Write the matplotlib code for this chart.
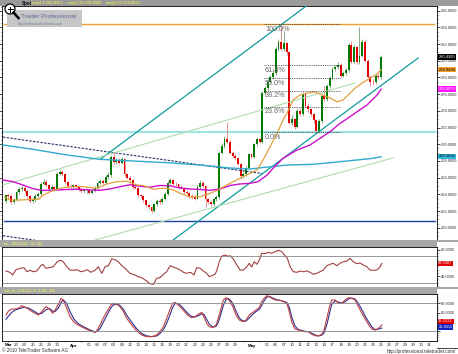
import matplotlib
matplotlib.use("Agg")
import matplotlib.pyplot as plt
from matplotlib.patches import Rectangle, Circle
from matplotlib.lines import Line2D
from matplotlib.transforms import IdentityTransform
from matplotlib.ticker import MultipleLocator

plt.rcParams['font.family'] = ['Liberation Sans', 'DejaVu Sans']

W, H = 458, 354

# ---- price data, 3 bars per trading day (Mar 22 .. May 25) ----
opens = [
    263.2, 263.9, 263.8, 263.1, 263.3, 264.3, 264.6, 264.8, 264.4, 263.8,
    263.2, 263.3, 263.8, 264.0, 265.3, 265.5, 265.1, 264.7, 264.9, 264.6,
    266.5, 266.7, 266.4, 265.5, 265.0, 264.9, 265.1, 264.9, 264.6, 264.4,
    264.5, 264.5, 264.2, 264.4, 264.8, 265.4, 265.6, 265.4, 266.1, 266.3,
    268.5, 267.9, 268.1, 267.8, 268.2, 266.4, 266.0, 265.7, 264.9, 264.8,
    263.9, 263.8, 263.3, 262.7, 262.5, 262.0, 262.8, 263.2, 263.1, 263.5,
    264.1, 265.4, 265.7, 265.3, 265.2, 264.9, 264.8, 264.3, 264.2, 263.8,
    263.7, 263.5, 264.9, 265.4, 265.0, 263.4, 263.1, 262.8, 263.4, 263.7,
    269.0, 269.8, 270.6, 270.3, 269.0, 268.6, 268.3, 267.7, 266.2, 266.4,
    267.2, 268.8, 268.5, 270.0, 270.6, 270.3, 276.2, 276.7, 277.5, 278.0,
    278.5, 281.4, 282.2, 281.4, 282.1, 281.0, 272.6, 273.0, 272.1, 274.0,
    273.6, 276.0, 274.6, 274.2, 273.6, 272.9, 271.6, 272.8, 275.8, 275.4,
    277.0, 277.9, 279.0, 279.2, 279.5, 278.2, 278.5, 278.9, 281.9, 279.9,
    281.6, 279.8, 280.6, 282.3, 280.0, 278.1, 277.5, 277.4, 278.2, 278.0,
]
highs = [
    264.1, 264.1, 264.0, 263.6, 264.5, 264.9, 265.1, 265.0, 264.6, 263.9,
    263.6, 264.0, 264.3, 265.5, 265.8, 265.7, 265.2, 265.1, 265.0, 266.7,
    267.0, 266.9, 266.5, 265.6, 265.2, 265.3, 265.2, 265.0, 264.8, 264.7,
    264.8, 264.6, 264.6, 265.0, 265.6, 265.9, 265.8, 266.3, 266.7, 268.7,
    269.1, 268.4, 268.3, 268.5, 268.3, 266.6, 266.2, 265.8, 265.1, 264.9,
    264.1, 263.9, 263.4, 262.9, 262.6, 263.0, 263.4, 263.4, 263.7, 264.3,
    265.6, 266.0, 265.9, 265.5, 265.3, 265.1, 264.9, 264.5, 264.3, 264.0,
    263.9, 265.1, 265.7, 265.6, 265.1, 263.6, 263.2, 263.6, 263.9, 269.2,
    270.1, 271.0, 272.7, 270.5, 269.2, 268.8, 268.5, 267.8, 266.7, 267.4,
    269.0, 269.0, 270.2, 270.9, 270.8, 276.4, 277.0, 277.8, 278.3, 279.0,
    281.6, 282.6, 284.4, 283.6, 282.3, 281.2, 273.5, 273.2, 274.3, 274.3,
    276.3, 276.1, 275.0, 274.4, 273.8, 273.0, 273.0, 276.0, 277.0, 277.2,
    278.2, 279.3, 279.5, 279.9, 279.7, 278.8, 279.1, 282.1, 282.4, 281.9,
    281.8, 284.0, 282.6, 282.5, 280.2, 278.3, 277.8, 278.4, 278.5, 280.7,
]
lows = [
    263.0, 263.5, 262.9, 262.9, 263.2, 264.1, 264.4, 264.2, 263.6, 263.0,
    263.0, 263.1, 263.6, 263.8, 265.1, 264.9, 264.5, 264.5, 264.4, 264.5,
    266.3, 266.2, 265.3, 264.8, 264.7, 264.7, 264.7, 264.4, 264.2, 264.2,
    264.2, 264.0, 264.0, 264.3, 264.6, 265.2, 265.2, 265.2, 265.9, 266.1,
    267.7, 267.7, 267.6, 267.6, 266.2, 265.8, 265.5, 264.7, 264.6, 263.7,
    263.6, 263.1, 262.5, 262.3, 261.8, 261.9, 262.6, 262.9, 262.9, 263.3,
    263.9, 265.2, 265.1, 265.0, 264.7, 264.6, 264.1, 264.0, 263.6, 263.5,
    263.3, 263.4, 264.7, 264.8, 262.5, 262.9, 262.6, 262.6, 263.2, 263.5,
    268.8, 269.6, 270.1, 268.8, 268.4, 268.1, 267.5, 265.9, 266.0, 266.2,
    267.0, 268.3, 268.3, 269.8, 270.1, 270.1, 275.9, 276.4, 277.3, 277.8,
    278.3, 281.2, 281.2, 281.2, 280.7, 272.4, 272.3, 271.8, 271.9, 273.4,
    273.4, 274.4, 273.9, 273.4, 272.6, 271.3, 271.4, 272.6, 275.2, 275.2,
    276.8, 277.7, 278.8, 279.0, 278.0, 278.0, 278.3, 278.7, 279.7, 279.7,
    279.6, 279.6, 280.4, 279.8, 277.9, 277.0, 277.1, 277.2, 277.8, 277.8,
]
closes = [
    263.9, 263.8, 263.1, 263.3, 264.3, 264.6, 264.8, 264.4, 263.8, 263.2,
    263.3, 263.8, 264.0, 265.3, 265.5, 265.1, 264.7, 264.9, 264.6, 266.5,
    266.7, 266.4, 265.5, 265.0, 264.9, 265.1, 264.9, 264.6, 264.4, 264.5,
    264.5, 264.2, 264.4, 264.8, 265.4, 265.6, 265.4, 266.1, 266.3, 268.5,
    267.9, 268.1, 267.8, 268.2, 266.4, 266.0, 265.7, 264.9, 264.8, 263.9,
    263.8, 263.3, 262.7, 262.5, 262.0, 262.8, 263.2, 263.1, 263.5, 264.1,
    265.4, 265.7, 265.3, 265.2, 264.9, 264.8, 264.3, 264.2, 263.8, 263.7,
    263.5, 264.9, 265.4, 265.0, 263.4, 263.1, 262.8, 263.4, 263.7, 269.0,
    269.8, 270.6, 270.3, 269.0, 268.6, 268.3, 267.7, 266.2, 266.4, 267.2,
    268.8, 268.5, 270.0, 270.6, 270.3, 276.2, 276.7, 277.5, 278.0, 278.5,
    281.4, 282.2, 281.4, 282.1, 281.0, 272.6, 273.0, 272.1, 274.0, 273.6,
    276.0, 274.6, 274.2, 273.6, 272.9, 271.6, 272.8, 275.8, 275.4, 277.0,
    277.9, 279.0, 279.2, 279.5, 278.2, 278.5, 278.9, 281.9, 279.9, 281.6,
    279.8, 280.6, 282.3, 280.0, 278.1, 277.5, 277.4, 278.2, 278.0, 280.43,
]

# moving averages (bar position, value)
orange_bar = [-0.3, 1.6, 5.3, 10.1, 12.3, 13.4, 16.4, 20.1, 23.8, 28.6, 33.8, 37.5, 41.2,
              44.9, 48.6, 50.9, 54.6, 57.1, 59.7, 62.0, 64.6, 68.3, 72.0, 75.7, 78.6, 81.9,
              83.1, 87.9, 93.1, 95.3, 97.9, 100.5, 102.7, 104.2, 106.4, 109.0, 111.6, 114.6,
              117.1, 120.1, 122.7, 124.9, 126.8, 129.4, 132.0, 133.8, 135.7, 137.5, 139.0]
orange_val = [263.65, 263.33, 263.33, 263.41, 263.41, 263.81, 264.32, 264.73, 264.92, 264.92,
              264.73, 265.25, 265.52, 265.57, 265.13, 265.07, 264.61, 264.71, 264.73, 264.53,
              264.13, 263.69, 263.72, 264.13, 264.53, 265.13, 265.33, 266.12, 266.92, 268.12,
              269.71, 271.32, 272.91, 273.75, 275.31, 275.9, 276.14, 276.26, 275.9, 275.55,
              275.07, 275.31, 275.9, 276.74, 277.34, 277.7, 278.06, 278.42, 278.94]
magenta_bar = [-1.0, 2.7, 6.4, 10.1, 13.8, 19.0, 22.7, 27.5, 31.2, 34.9, 38.6, 42.3, 46.0,
               49.7, 53.4, 57.1, 60.9, 64.6, 68.3, 72.0, 75.7, 79.4, 83.1, 86.8, 90.5, 93.4,
               96.8, 99.0, 102.7, 107.9, 112.7, 116.4, 120.1, 123.8, 125.7, 130.1, 133.8,
               137.5, 139.0]
magenta_val = [265.73, 265.52, 265.13, 264.68, 264.47, 264.53, 264.59, 264.61, 264.53, 264.49,
               264.65, 264.92, 265.16, 264.97, 264.86, 265.07, 265.03, 264.77, 264.65, 264.59,
               264.49, 264.65, 265.07, 265.25, 265.33, 265.52, 266.32, 267.13, 268.32, 269.32,
               269.92, 270.72, 271.51, 272.52, 272.91, 273.9, 274.71, 275.9, 276.61]
cyan_bar = [-1.0, 10.1, 22.7, 34.9, 47.1, 59.7, 72.0, 83.1, 90.5, 95.3, 104.2, 113.8, 120.1,
            127.5, 134.9, 139.0]
cyan_val = [269.92, 269.4, 268.72, 268.2, 268.0, 267.8, 267.52, 267.16, 267.04, 267.22,
            267.52, 267.6, 267.8, 268.04, 268.28, 268.5]

# horizontal levels and trend lines ((bar, price), (bar, price))
level_orange = 284.37
level_cyan = 271.5
level_navy = 260.85
dashed_upper = ((-1.0, 270.86), (94.9, 266.5))
dashed_lower = ((-1.0, 259.05), (12.0, 258.45))
teal_upper = ((35.0, 268.2), (112.7, 286.9))
teal_lower = ((62.0, 258.54), (152.7, 280.33))
pale_upper = ((-1.0, 265.13), (129.4, 277.34))
pale_lower = ((33.1, 258.54), (143.4, 268.36))

fib_levels = [284.40, 279.46, 277.94, 276.41, 274.52, 271.47]
fib_labels = ['100.0%', '61.8%', '50.0%', '38.2%', '23.6%', '0.0%']
fib_start, fib_end = 95.5, 123.8

# RSI (14)
rsi_bar = [0.1, 1.6, 2.6, 3.8, 5.3, 6.8, 7.8, 9.0, 10.2, 11.5, 13.0, 13.7, 14.9, 16.1, 17.6,
           19.1, 20.4, 21.3, 22.6, 23.8, 25.3, 26.5, 27.8, 29.0, 30.2, 31.5, 33.1, 34.3, 34.9,
           35.6, 36.8, 38.0, 39.3, 40.5, 41.7, 43.0, 44.2, 46.0, 47.9, 49.1, 50.4, 52.2, 53.4,
           54.7, 55.9, 57.1, 58.4, 59.6, 60.9, 62.1, 63.3, 64.6, 65.8, 67.0, 68.5, 69.7, 70.7,
           72.0, 73.2, 74.4, 75.4, 76.3, 77.5, 78.1, 79.1, 80.0, 81.2, 82.4, 83.1,
           84.3, 85.6, 86.8, 88.0, 89.3, 90.2, 91.1, 92.0, 93.0, 93.9, 94.8, 96.0, 97.3, 98.5,
           99.7, 101.0, 102.2, 103.4, 104.3, 105.3, 106.5, 107.8, 109.0, 110.2, 111.5, 112.7,
           113.9, 115.2, 116.4, 117.6, 118.9, 120.1, 121.3, 122.6, 123.8, 125.0, 126.3, 127.5,
           128.7, 130.0, 131.2, 132.4, 133.7, 134.9, 136.1, 137.4, 138.4, 139.3]
rsi_val = [47.7, 45.7, 41.5, 49.7, 51.8, 52.8, 46.6, 48.8, 46.6, 47.7,
           55.8, 58.0, 51.8, 52.8, 54.3, 62.0, 64.2, 62.0, 54.3, 49.2,
           48.8, 49.7, 46.6, 47.7, 49.7, 45.7, 48.8, 54.3, 49.2, 44.2,
           54.3, 55.8, 66.2, 65.1, 62.0, 55.8, 51.8, 44.2, 41.5, 38.9,
           37.4, 32.3, 28.2, 27.2, 36.5, 37.4, 42.6, 46.6, 55.8, 53.8,
           51.8, 49.2, 45.7, 44.2, 45.7, 41.5, 52.8, 51.8, 47.7, 44.2,
           38.9, 40.5, 42.6, 47.7, 62.0, 70.3, 72.3, 70.3, 71.2,
           66.2, 56.9, 49.2, 49.2, 54.3, 59.5, 53.8, 62.0, 58.0, 64.6,
           74.9, 74.3, 76.5, 74.9, 77.4, 79.5, 77.4, 71.2, 67.2, 54.3,
           46.6, 45.7, 47.7, 46.6, 47.7, 45.7, 42.6, 44.2, 46.6, 49.2,
           55.8, 58.0, 59.5, 55.8, 59.5, 62.0, 63.1, 67.2, 62.0, 58.9,
           60.0, 56.9, 54.3, 49.2, 48.8, 49.2, 52.8, 59.5]

# slow stochastic (14, 3, 3)
sto_bar = [0.1, 1.0, 2.2, 3.4, 4.7, 5.9, 6.8, 8.4, 10.2, 12.1, 13.3, 14.9, 16.2, 17.4, 18.3,
           19.5, 20.5, 21.3, 22.6, 23.8, 25.3, 26.9, 28.7, 30.6, 32.2, 33.1, 33.9, 34.9, 36.1,
           37.6, 38.9, 39.9, 41.1, 42.3, 43.6, 44.8, 46.7, 48.5, 50.4, 52.2, 54.1, 55.9, 57.1,
           58.4, 59.6, 60.9, 61.8, 62.7, 63.9, 65.2, 66.4, 67.6, 68.9, 70.1, 71.3, 72.6, 73.4,
           74.4, 75.4, 76.7, 77.9, 78.7, 79.6, 80.6, 81.6, 82.4, 83.1,
           84.1, 85.3, 86.5, 87.8, 89.0, 90.2, 91.5, 92.7, 93.9, 94.8, 95.7, 96.7, 97.6, 98.9,
           100.1, 101.6, 102.8, 104.1, 105.0, 105.9, 107.1, 108.4, 109.6, 110.9, 112.1, 113.3,
           114.6, 115.8, 117.0, 117.9, 118.9, 119.9, 120.7, 122.0, 123.2, 124.4, 125.7, 126.9,
           128.1, 129.4, 130.6, 131.9, 133.1, 134.3, 135.6, 136.8, 138.0, 139.3]
sto_k = [54.4, 63.3, 67.8, 67.8, 69.3, 75.1, 72.9, 67.8, 60.4, 54.4,
         61.9, 72.9, 67.8, 58.2, 65.6, 78.2, 91.5, 87.8, 69.3, 50.7,
         38.1, 32.2, 26.3, 21.1, 17.4, 15.9, 21.1, 32.2, 47.1, 63.3,
         76.7, 80.4, 78.2, 72.9, 61.9, 47.1, 32.2, 18.9, 10.0, 6.3,
         6.3, 10.0, 17.4, 28.5, 47.1, 67.8, 80.4, 82.6, 76.7, 69.3,
         60.4, 53.0, 48.5, 50.7, 56.0, 60.4, 50.7, 36.0, 28.5, 26.3,
         32.2, 47.1, 65.6, 87.8, 92.9, 90.0, 84.1,
         72.9, 54.4, 43.3, 39.6, 43.3, 54.4, 60.4, 65.6, 70.7, 84.1,
         91.5, 97.3, 95.1, 90.0, 87.8, 87.0, 84.1, 80.4, 61.9, 39.6,
         23.3, 21.1, 18.9, 17.4, 17.4, 11.5, 8.5, 7.8, 11.5, 21.1,
         47.1, 72.9, 87.8, 87.8, 80.4, 80.4, 87.8, 92.9, 91.5, 87.8,
         72.9, 58.2, 45.6, 33.7, 23.3, 21.1, 24.8, 32.2]
sto_d = [45, 52, 60, 65, 68, 70, 72, 70, 64, 57,
         58, 66, 69, 63, 62, 70, 82, 88, 80, 62,
         45, 35, 29, 23, 19, 17, 18, 24, 38, 55,
         70, 77, 79, 76, 67, 54, 38, 24, 13, 8,
         6.5, 8, 13, 22, 36, 56, 71, 80, 80, 73,
         65, 57, 51, 50, 53, 57, 56, 45, 34, 28,
         29, 38, 55, 76, 89, 91, 88,
         80, 63, 48, 41, 41, 48, 56, 62, 67, 76,
         86, 94, 96, 92, 89, 87, 85, 82, 72, 50,
         30, 22, 20, 18, 17.5, 14, 10, 8, 9.5, 15,
         33, 58, 78, 86, 83, 81, 84, 90, 92, 90,
         80, 66, 52, 40, 28, 22, 23, 25.6]

# one label per day (trading days, then calendar days after May 25)
day_labels = ['Mar', '23', '24', '25', '26', '29', '30', '', 'Apr', '',
              '05', '06', '07', '08', '09', '12', '13', '14', '15', '16',
              '19', '20', '21', '22', '23', '26', '27', '28', '29', '',
              'May', '', '05', '06', '07', '10', '11', '12', '13', '14',
              '17', '18', '19', '20', '21', '24', '25', '26', '27', '28',
              '29', '30', '31']


def box(x0, y0, x1, y1):
    return [x0 / W, 1 - y1 / H, (x1 - x0) / W, (y1 - y0) / H]


def fx(x):
    return x / W


def fy(y):
    return 1 - y / H


fig = plt.figure(figsize=(W / 100, H / 100), dpi=100)
fig.patch.set_facecolor('white')

ax = fig.add_axes(box(2, 6, 437, 240))
ax_rsi = fig.add_axes(box(2, 247, 437, 287), sharex=ax)
ax_sto = fig.add_axes(box(2, 294, 437, 341), sharex=ax)

# ---- main price panel ----
xs = list(range(len(closes)))
up = [c >= o for o, c in zip(opens, closes)]
body_col = ['#007a00' if u else '#e00000' for u in up]
wick_col = ['#7aa07a' if u else '#e88080' for u in up]
ax.vlines(xs, lows, highs, colors=wick_col, lw=0.6, zorder=3)
ax.bar(xs, [max(abs(c - o), 0.08) for o, c in zip(opens, closes)],
       bottom=[min(o, c) for o, c in zip(opens, closes)],
       width=0.7, color=body_col, lw=0, zorder=4)

ax.axhline(level_orange, xmin=0.005, xmax=0.993, color='#f0a030', lw=1.0, zorder=2)
ax.axhline(level_cyan, xmin=0.005, xmax=0.995, color='#a0e4e4', lw=1.6, zorder=2)
ax.axhline(level_navy, xmin=0.005, xmax=0.995, color='#2040a0', lw=1.0, zorder=2)

for (p0, p1), col, lw, ls in [
        (dashed_upper, '#223366', 0.8, (0, (2.2, 1.2))),
        (dashed_lower, '#223366', 0.8, (0, (2.2, 1.2))),
        (teal_upper, '#109a9a', 0.9, '-'),
        (teal_lower, '#109a9a', 0.9, '-'),
        (pale_upper, '#b0dcb0', 0.8, '-'),
        (pale_lower, '#b0dcb0', 0.8, '-')]:
    ax.plot([p0[0], p1[0]], [p0[1], p1[1]], color=col, lw=lw, ls=ls, zorder=5)

ax.plot(cyan_bar, cyan_val, color='#30aacc', lw=1.0, zorder=5)
ax.plot(magenta_bar, magenta_val, color='#cc10cc', lw=1.0, zorder=5)
ax.plot(orange_bar, orange_val, color='#e0a040', lw=0.9, zorder=5)

for lev, lab in zip(fib_levels, fib_labels):
    ax.plot([fib_start, fib_end], [lev, lev], color='#333333', lw=0.6,
            ls=(0, (1, 1.2)), zorder=6)
    ax.annotate(lab, (fib_start + 0.5, lev), xytext=(0, -1.2), textcoords='offset points',
                fontsize=5.2, color='#666666', va='top', ha='left', zorder=7)

ax.set_xlim(-1.37, 159.7)
ax.set_ylim(258.54, 286.56)
ax.yaxis.tick_right()
ax.set_yticks(range(260, 287, 2))
ax.set_yticklabels([f'{v:.4f}' for v in range(260, 287, 2)])
ax.yaxis.set_minor_locator(MultipleLocator(0.5))

for a in (ax, ax_rsi, ax_sto):
    a.set_facecolor('white')
    for s in a.spines.values():
        s.set_color('#000000')
        s.set_linewidth(0.6)
    a.tick_params(axis='y', which='major', left=True, right=True, direction='out',
                  length=2, width=0.5, labelsize=2.9, pad=0.6, labelcolor='#333333')
    a.tick_params(axis='y', which='minor', left=True, right=True, direction='out',
                  length=1, width=0.4)
    a.tick_params(axis='x', which='both', length=0, labelbottom=False)

# value boxes on the right scale
tr = ax.get_yaxis_transform()
for val, txt, fc, tc in [(280.43, '280.4300', '#000000', 'white'),
                         (278.94, '278.9436', '#f0a030', 'black'),
                         (276.61, '276.6073', '#ff10ff', 'white'),
                         (268.56, '268.5636', '#30b8e0', 'black')]:
    ax.text(1.003, val, txt, transform=tr, fontsize=2.9, color=tc, va='center', ha='left',
            bbox=dict(boxstyle='square,pad=0.18', fc=fc, ec='none'), zorder=10, clip_on=False)

# ---- RSI panel ----
ax_rsi.plot(rsi_bar, rsi_val, color='#a04040', lw=0.8)
ax_rsi.axhline(70, color='#888888', lw=0.6)
ax_rsi.axhline(30, color='#888888', lw=0.6)
ax_rsi.set_ylim(23.1, 84.6)
ax_rsi.yaxis.tick_right()
ax_rsi.set_yticks([40, 60, 80])
ax_rsi.set_yticklabels(['40.0000', '', '80.0000'])
ax_rsi.yaxis.set_minor_locator(MultipleLocator(5))
ax_rsi.text(1.003, rsi_val[-1], '59.5087', transform=ax_rsi.get_yaxis_transform(),
            fontsize=2.9, color='white', va='center', ha='left', clip_on=False,
            bbox=dict(boxstyle='square,pad=0.18', fc='#e00000', ec='none'))

# ---- stochastic panel ----
ax_sto.plot(sto_bar, sto_d, color='#303090', lw=0.8)
ax_sto.plot(sto_bar, sto_k, color='#c04040', lw=0.8)
ax_sto.axhline(80, color='#888888', lw=0.6)
ax_sto.axhline(20, color='#888888', lw=0.6)
ax_sto.set_ylim(-3.3, 101.1)
ax_sto.yaxis.tick_right()
ax_sto.set_yticks([20, 40, 60, 80])
ax_sto.set_yticklabels(['', '', '60.0000', '80.0000'])
ax_sto.yaxis.set_minor_locator(MultipleLocator(5))
st = ax_sto.get_yaxis_transform()
ax_sto.text(1.003, 40.5, '32.2222', transform=st, fontsize=2.9, color='white', va='center',
            ha='left', clip_on=False, bbox=dict(boxstyle='square,pad=0.18', fc='#e00000', ec='none'))
ax_sto.text(1.003, 27.5, '25.6011', transform=st, fontsize=2.9, color='white', va='center',
            ha='left', clip_on=False, bbox=dict(boxstyle='square,pad=0.18', fc='#1020c0', ec='none'))

ax_sto.set_xticks([3 * d + 1 for d in range(len(day_labels))])
ax_sto.set_xticklabels(day_labels)
ax_sto.tick_params(axis='x', length=1, width=0.4, labelbottom=True, labelsize=3.2,
                   pad=0.8, labelcolor='#333333')
for t in ax_sto.get_xticklabels():
    if t.get_text() in ('Mar', 'Apr', 'May'):
        t.set_fontweight('bold')
        t.set_color('black')

# ---- header bars and frame ----
def band(x0, y0, x1, y1, fc, ec='none'):
    fig.add_artist(Rectangle((fx(x0), fy(y1)), (x1 - x0) / W, (y1 - y0) / H,
                             transform=fig.transFigure, fc=fc, ec=ec, lw=0.5, zorder=20))

band(0, 0, 458, 6, '#9a9a9a')
band(0, 240, 437, 247, '#a8a8a8')
band(437, 240, 458, 242, '#a8a8a8')
band(0, 287, 437, 294, '#a8a8a8')
band(437, 287, 458, 289, '#a8a8a8')

fig.text(fx(22), fy(3.3), 'Spot', fontsize=3.3, fontweight='bold', color='black',
         va='center', zorder=21)
fig.text(fx(31), fy(3.3), 'ma(c) 1 280.4300    ma(c) 20 278.9436    ma(c) 50 276.6073',
         fontsize=3.0, color='#ffff40', va='center', zorder=21)
fig.text(fx(4), fy(243.6), 'rsi_ 2010 (14, 70, 30)', fontsize=3.0, color='#ffff40',
         va='center', zorder=21)
fig.text(fx(4), fy(290.6), 'sto_sl_ 0.0 (14, 3, 3, 80, 20)', fontsize=3.0, color='#ffff40',
         va='center', zorder=21)

fig.add_artist(Line2D([fx(457.5), fx(457.5)], [fy(0), fy(348)], transform=fig.transFigure,
                      color='#222222', lw=0.7, zorder=21))
fig.add_artist(Line2D([fx(437), fx(457.5)], [fy(348), fy(348)], transform=fig.transFigure,
                      color='#222222', lw=0.6, zorder=21))

# logo box and magnifier
band(7, 10, 82, 27, '#c6c6c6')
fig.text(fx(21), fy(17), 'Trader Professional', fontsize=4.6, color='#5a6a9a',
         va='center', zorder=21)
fig.text(fx(18), fy(23.5), 'http://professional.teletrader.com/', fontsize=2.2,
         color='#6a7aa0', va='center', zorder=21)
fig.add_artist(Circle((10, H - 9), 5, transform=IdentityTransform(), fc='white',
                      ec='black', lw=0.9, zorder=22))
fig.add_artist(Line2D([13.5, 18.5], [H - 12.5, H - 18], transform=IdentityTransform(),
                      color='black', lw=1.8, zorder=22))
fig.add_artist(Line2D([7.5, 12.5], [H - 9, H - 9], transform=IdentityTransform(),
                      color='black', lw=0.7, zorder=23))
fig.add_artist(Line2D([10, 10], [H - 6.5, H - 11.5], transform=IdentityTransform(),
                      color='black', lw=0.7, zorder=23))

fig.text(fx(2), fy(351), '\u00a9 2010 TeleTrader Software AG', fontsize=3.3,
         color='#333333', va='center')
fig.text(fx(456), fy(351), 'http://professional.teletrader.com/', fontsize=3.3,
         color='#333333', va='center', ha='right')

fig.savefig('out.png', dpi=100)
